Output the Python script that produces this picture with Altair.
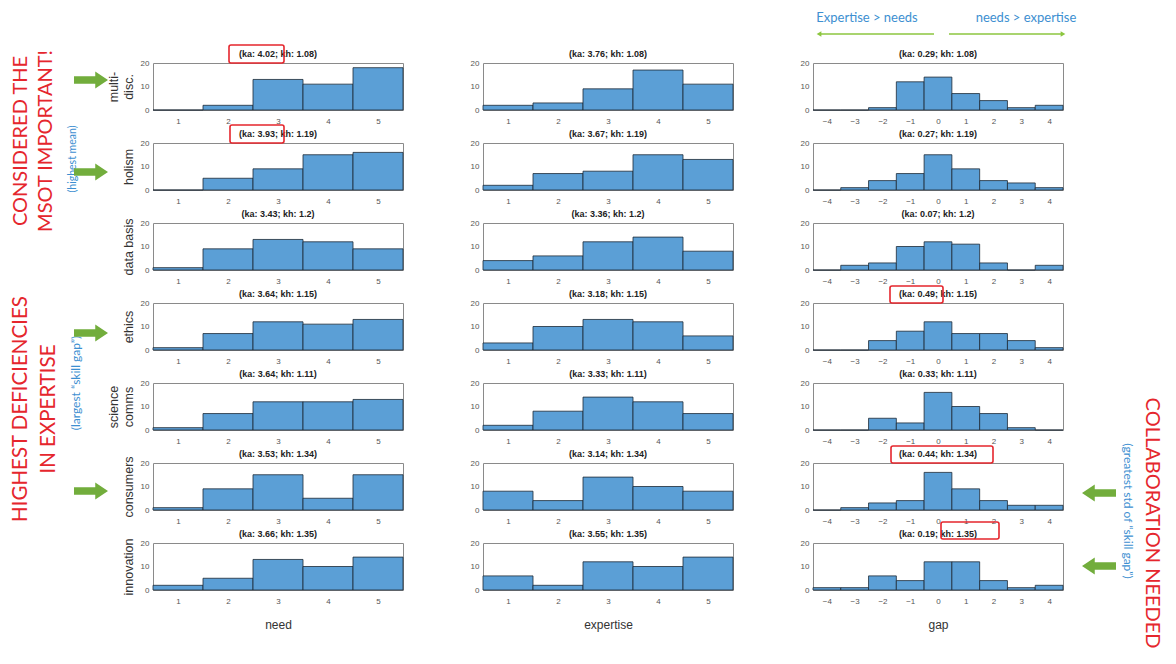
import altair as alt
import pandas as pd

# ---------------- data ----------------
ROW_NAMES = [["multi-", "disc."], ["holism"], ["data basis"], ["ethics"],
             ["science", "comms"], ["consumers"], ["innovation"]]
KH = ["1.08", "1.19", "1.2", "1.15", "1.11", "1.34", "1.35"]
NEED_KA = ["4.02", "3.93", "3.43", "3.64", "3.64", "3.53", "3.66"]
EXP_KA = ["3.76", "3.67", "3.36", "3.18", "3.33", "3.14", "3.55"]
GAP_KA = ["0.29", "0.27", "0.07", "0.49", "0.33", "0.44", "0.19"]

SCALE_LEVELS = [1, 2, 3, 4, 5]
GAP_LEVELS = [-4, -3, -2, -1, 0, 1, 2, 3, 4]

NEED_COUNTS = [
    [0, 2, 13, 11, 18],
    [0, 5, 9, 15, 16],
    [1, 9, 13, 12, 9],
    [1, 7, 12, 11, 13],
    [1, 7, 12, 12, 13],
    [1, 9, 15, 5, 15],
    [2, 5, 13, 10, 14],
]
EXP_COUNTS = [
    [2, 3, 9, 17, 11],
    [2, 7, 8, 15, 13],
    [4, 6, 12, 14, 8],
    [3, 10, 13, 12, 6],
    [2, 8, 14, 12, 7],
    [8, 4, 14, 10, 8],
    [6, 2, 12, 10, 14],
]
GAP_COUNTS = [
    [0, 0, 1, 12, 14, 7, 4, 1, 2],
    [0, 1, 4, 7, 15, 9, 4, 3, 1],
    [0, 2, 3, 10, 12, 11, 3, 0, 2],
    [0, 0, 4, 8, 12, 7, 7, 4, 1],
    [0, 0, 5, 3, 16, 10, 7, 1, 0],
    [0, 1, 3, 4, 16, 9, 4, 2, 2],
    [1, 1, 6, 4, 12, 12, 4, 1, 2],
]
COLUMN_TITLES = ["need", "expertise", "gap"]

LEFT_NOTES = ["CONSIDERED THE", "MSOT IMPORTANT!", "(highest mean)",
              "HIGHEST DEFICIENCIES", "IN EXPERTISE", "(largest \u201cskill gap\u201d)"]
RIGHT_NOTES = ["COLLABORATION NEEDED", "(greatest std of \u201cskill gap\u201d)"]
TOP_NOTES = ["Expertise > needs", "needs > expertise"]

# ---------------- styles ----------------
BAR = "#5b9fd6"
RED = "#e5262d"
BLUE = "#3d8fd1"
GREEN = "#72ad3c"
LGREEN = "#8cc63f"
NOTE_FONT = "Lato"
PW, PH = 250, 47

RIGHT_ARROW = "M-1,-0.22L0.25,-0.22L0.25,-0.5L1,0L0.25,0.5L0.25,0.22L-1,0.22Z"
LEFT_ARROW = "M1,-0.22L-0.25,-0.22L-0.25,-0.5L-1,0L-0.25,0.5L-0.25,0.22L1,0.22Z"


def one():
    return pd.DataFrame({"k": [0]})


def note(text, x, y, size, color, angle=0, font=NOTE_FONT, weight="normal"):
    return alt.Chart(pd.DataFrame({"t": [text]})).mark_text(
        angle=angle, fontSize=size, color=color, font=font, fontWeight=weight,
        align="center", baseline="middle"
    ).encode(text="t:N", x=alt.value(x), y=alt.value(y))


def box(x0, x1, y0, y1):
    return alt.Chart(one()).mark_rect(
        fillOpacity=0, stroke=RED, strokeWidth=1.6, cornerRadius=2
    ).encode(x=alt.value(x0), x2=alt.value(x1), y=alt.value(y0), y2=alt.value(y1))


def block_arrow(x, y, path):
    return alt.Chart(one()).mark_point(
        shape=path, filled=True, size=1156, color=GREEN, opacity=1, strokeWidth=0
    ).encode(x=alt.value(x), y=alt.value(y))


def thin_arrow(x_tail, x_head, y, head_shape):
    line = alt.Chart(one()).mark_rule(color=LGREEN, strokeWidth=1.5).encode(
        x=alt.value(x_tail), x2=alt.value(x_head), y=alt.value(y))
    head = alt.Chart(one()).mark_point(
        shape=head_shape, filled=True, size=30, color=LGREEN, opacity=1
    ).encode(x=alt.value(x_head), y=alt.value(y))
    return [line, head]


def anchor():
    return alt.Chart(one()).mark_rect(fill="white", opacity=1).encode(
        x=alt.value(-144), x2=alt.value(-143), y=alt.value(-54), y2=alt.value(-53))


def decorations(r, c):
    d = []
    if r == 0 and c == 0:
        d.append(anchor())
        d.append(note(LEFT_NOTES[0], -132, 78, 20, RED, 270))
        d.append(note(LEFT_NOTES[1], -107, 78, 20, RED, 270))
        d.append(note(LEFT_NOTES[2], -80, 96, 10.5, BLUE, 270))
        d.append(note(LEFT_NOTES[3], -132, 346, 20.5, RED, 270))
        d.append(note(LEFT_NOTES[4], -104, 346, 20.5, RED, 270))
        d.append(note(LEFT_NOTES[5], -77, 320, 12, BLUE, 270))
        for yy in [17, 109, 270, 428]:
            d.append(block_arrow(-62, yy, RIGHT_ARROW))
        d.append(box(76, 131, -18, 0))
    if r == 1 and c == 0:
        d.append(box(77, 131, -18, 0))
    if r == 3 and c == 2:
        d.append(box(77, 130, -17, 0))
    if r == 5 and c == 2:
        d.append(box(78, 180, -17, 0))
    if r == 6 and c == 2:
        d.append(box(128, 186, -21, -4))
    if r == 0 and c == 2:
        d.append(note(TOP_NOTES[0], 54, -45, 13, BLUE))
        d.append(note(TOP_NOTES[1], 213, -45, 13, BLUE))
        d.extend(thin_arrow(121, 6, -29, "triangle-left"))
        d.extend(thin_arrow(136, 250, -29, "triangle-right"))
        d.append(note(RIGHT_NOTES[0], 339, 460, 20, RED, 90))
        d.append(note(RIGHT_NOTES[1], 315, 448, 12, BLUE, 90))
        for yy in [430, 503]:
            d.append(block_arrow(286, yy, LEFT_ARROW))
    return d


def panel(counts, levels, ka, r, c):
    df = pd.DataFrame({"level": levels, "count": counts})
    xdom = [levels[0] - 0.5, levels[-1] + 0.5]
    xaxis = alt.Axis(values=levels, labelFlush=False, labelPadding=7,
                     title=COLUMN_TITLES[c] if r == 6 else None,
                     titlePadding=14, titleFontSize=12)
    yaxis = alt.Axis(values=[0, 10, 20], labelFlush=False, labelPadding=4,
                     title=ROW_NAMES[r] if c == 0 else None,
                     titlePadding=5, titleFontSize=12.5)
    bars = alt.Chart(df).transform_calculate(
        lo="datum.level - 0.5", hi="datum.level + 0.5", base="0"
    ).mark_bar(fill=BAR, stroke="#1d2a36", strokeWidth=0.8, opacity=1).encode(
        x=alt.X("lo:Q", scale=alt.Scale(domain=xdom, nice=False, zero=False), axis=xaxis),
        x2="hi:Q",
        y=alt.Y("count:Q", scale=alt.Scale(domain=[0, 20], nice=False), axis=yaxis),
        y2="base:Q",
    )
    title = note(f"(ka: {ka}; kh: {KH[r]})", PW / 2, -9, 9, "#222",
                 font="Liberation Sans", weight="bold")
    return alt.layer(bars, title, *decorations(r, c)).properties(width=PW, height=PH)


panels = []
for r in range(7):
    panels.append(panel(NEED_COUNTS[r], SCALE_LEVELS, NEED_KA[r], r, 0))
    panels.append(panel(EXP_COUNTS[r], SCALE_LEVELS, EXP_KA[r], r, 1))
    panels.append(panel(GAP_COUNTS[r], GAP_LEVELS, GAP_KA[r], r, 2))

chart = alt.concat(
    *panels, columns=3, spacing={"row": 33, "column": 80}, bounds="flush", padding=0
).configure_view(
    stroke="#8a8a8a", strokeWidth=1
).configure_axis(
    labelFont="Liberation Sans", labelFontSize=8, labelColor="#555",
    domain=False, ticks=False, grid=False,
    titleFont="Liberation Sans", titleFontWeight="normal", titleColor="#333"
)

chart.save("out.html", embed_options={"renderer": "svg", "actions": False})
